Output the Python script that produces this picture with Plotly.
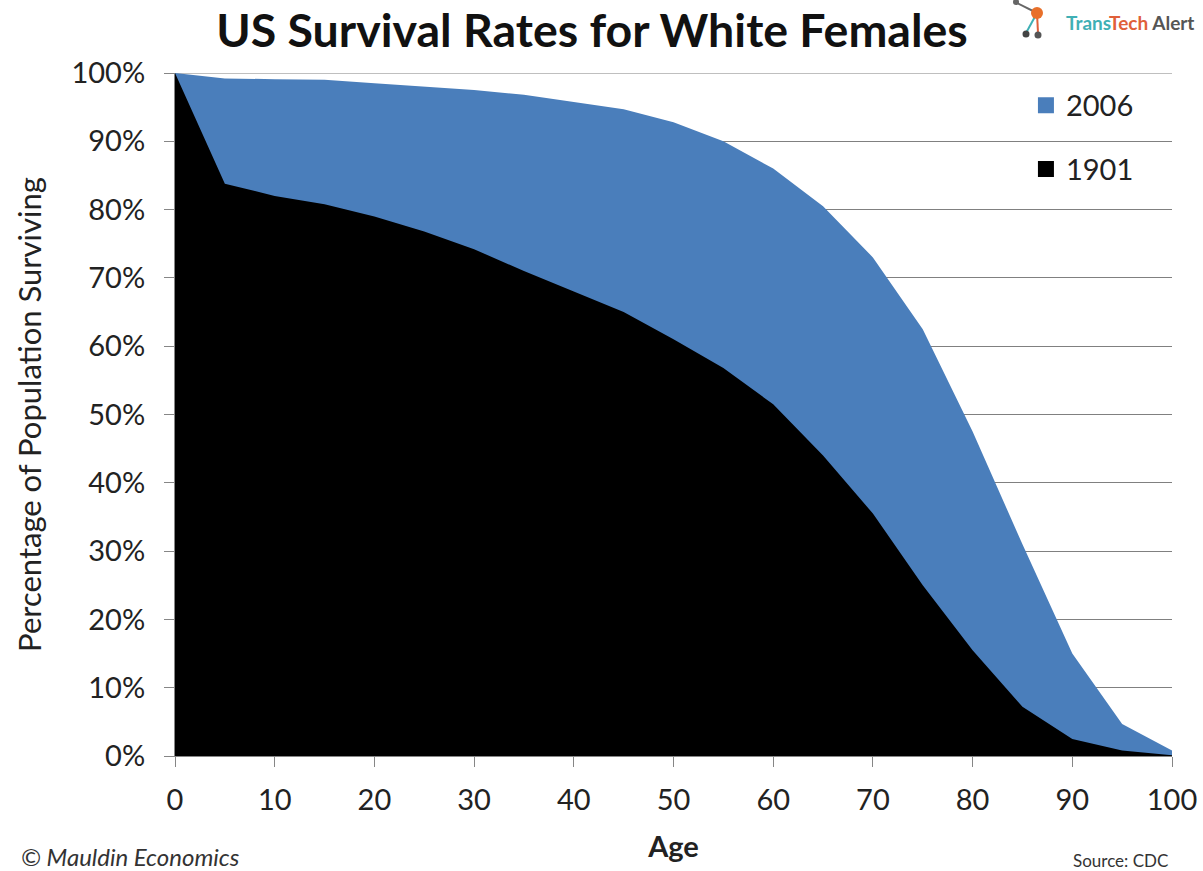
import plotly.graph_objects as go

ages = [0, 5, 10, 15, 20, 25, 30, 35, 40, 45, 50, 55, 60, 65, 70, 75, 80, 85, 90, 95, 100]
survival_2006 = [100, 99.2, 99.1, 99, 98.5, 98, 97.5, 96.8, 95.8, 94.7, 92.8, 90, 86, 80.5, 73, 62.5, 47.5, 31, 15, 4.7, 0.8]
survival_1901 = [100, 83.8, 82, 80.8, 79, 76.8, 74.2, 71, 68, 65, 61, 56.8, 51.5, 44, 35.5, 25, 15.5, 7.2, 2.5, 0.8, 0.1]
x_ticks = list(range(0, 101, 10))
y_ticks = list(range(0, 101, 10))
y_labels = [f"{v}%" for v in y_ticks]

BLUE = "#4a7ebb"
W, H = 1203, 871
FONT = "Lato"
TEXT = "#222222"

fig = go.Figure()
fig.add_trace(go.Scatter(x=ages, y=survival_2006, mode="lines", line=dict(width=0, color=BLUE),
                         fill="tozeroy", fillcolor=BLUE, showlegend=False, hoverinfo="x+y", name="2006"))
fig.add_trace(go.Scatter(x=ages, y=survival_1901, mode="lines", line=dict(width=0, color="#000"),
                         fill="tozeroy", fillcolor="#000", showlegend=False, hoverinfo="x+y", name="1901"))
for nm, col in (("2006", BLUE), ("1901", "#000")):
    fig.add_trace(go.Scatter(x=[None], y=[None], mode="markers", name=nm, legendgroup=nm,
                             marker=dict(symbol="square", size=20, color=col)))

fig.update_layout(
    width=W, height=H, autosize=False,
    margin=dict(l=175, r=31, t=73, b=115, autoexpand=False),
    paper_bgcolor="white", plot_bgcolor="white",
    font=dict(family=FONT, color=TEXT, size=29),
    title=dict(text="<b>US Survival Rates for White Females</b>", font=dict(size=46.5, color="#111"),
               x=592 / W, xanchor="center", y=1 - 31 / H, yanchor="middle"),
    legend=dict(x=0.8535, y=0.99, xanchor="left", yanchor="top", bgcolor="rgba(0,0,0,0)",
                tracegroupgap=23, font=dict(size=29), itemwidth=30),
    xaxis=dict(range=[0, 100], tickvals=x_ticks, ticks="outside", ticklen=10, tickcolor="#868686",
               ticklabelstandoff=8, automargin=False,
               showline=True, linecolor="#868686", linewidth=1, showgrid=False, zeroline=False,
               title=dict(text="<b>Age</b>", font=dict(size=29), standoff=21)),
    yaxis=dict(range=[0, 100], tickvals=y_ticks, ticktext=y_labels, ticks="outside", ticklen=10, tickcolor="#868686",
               ticklabelstandoff=13, automargin=False,
               showline=True, linecolor="#868686", linewidth=1, showgrid=True, gridcolor="#808080", gridwidth=1,
               zeroline=False, title=dict(text="Percentage of Population Surviving", font=dict(size=31), standoff=20)),
    annotations=[
        dict(text="<i>© Mauldin Economics</i>", xref="paper", yref="paper", x=-156 / 997, y=-100 / 683,
             xanchor="left", yanchor="middle", showarrow=False, font=dict(size=24, color="#333")),
        dict(text="Source: CDC", xref="paper", yref="paper", x=(1170 - 175) / 997, y=-104 / 683,
             xanchor="right", yanchor="middle", showarrow=False, font=dict(size=17, color="#333")),
        dict(text="<b><span style='color:#3fb0b5'>Trans</span><span style='color:#e0603a'>Tech</span> <span style='color:#555'>Alert</span></b>",
             xref="paper", yref="paper", x=(1196 - 175) / 997, y=(756 - 22) / 683,
             xanchor="right", yanchor="middle", showarrow=False, font=dict(size=19)),
    ],
)

# small logo emblem, in pixel-derived paper coordinates
def px(x, y):
    return (x - 175) / 997, (756 - y) / 683

shapes = [dict(type="line", xref="paper", yref="y", x0=0, x1=1, y0=y_ticks[-1], y1=y_ticks[-1],
               layer="below", line=dict(color="#808080", width=1))]
for (x0, y0), (x1, y1), c in [((1015, 2), (1037, 13), "#666"), ((1037, 13), (1026, 33), "#3fb0b5"), ((1037, 13), (1038, 33), "#e0603a")]:
    a, b = px(x0, y0); c0, d = px(x1, y1)
    shapes.append(dict(type="line", xref="paper", yref="paper", x0=a, y0=b, x1=c0, y1=d, line=dict(color=c, width=2)))
for cx, cy, r, c in [(1037, 13, 6, "#e8702a"), (1026, 34, 3.5, "#444"), (1038, 35, 3.5, "#555"), (1016, 2, 3, "#666")]:
    a, b = px(cx - r, cy - r); c0, d = px(cx + r, cy + r)
    shapes.append(dict(type="circle", xref="paper", yref="paper", x0=a, y0=b, x1=c0, y1=d, fillcolor=c, line=dict(width=0)))
fig.update_layout(shapes=shapes)

fig.write_html("out.html", config=dict(displayModeBar=False), post_script="document.body.style.margin='0';")
